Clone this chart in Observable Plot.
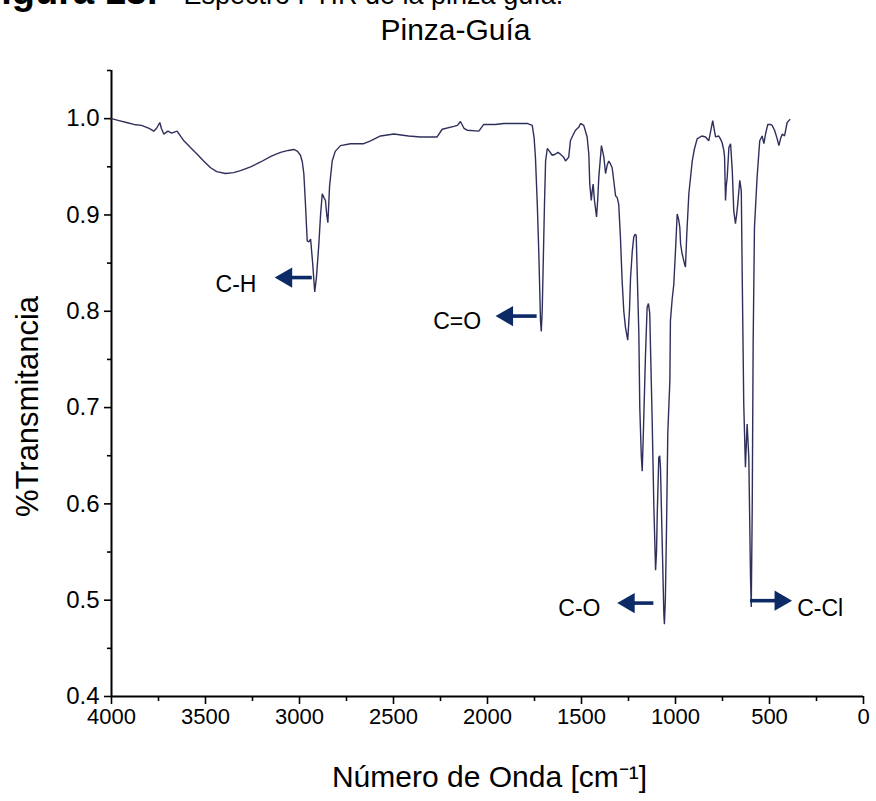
<!DOCTYPE html>
<html>
<head>
<meta charset="utf-8">
<script src="https://cdn.jsdelivr.net/npm/d3@7"></script>
<script src="https://cdn.jsdelivr.net/npm/@observablehq/plot@0.6"></script>
<style>
  html, body { margin: 0; padding: 0; background: #fff; }
  #page { position: relative; width: 876px; height: 801px; overflow: hidden; }
  #caption {
    position: absolute; left: -22px; top: -30px; white-space: nowrap;
    font-family: "Liberation Sans", Arial, sans-serif; font-size: 27px; color: #000;
  }
  #caption b { font-size: 38px; margin-right: 26px; }
  #chart { position: absolute; left: 0; top: 0; }
</style>
</head>
<body>
<div id="page">
  <div id="chart"></div>
  <div id="caption"><b>Figura 13.</b>Espectro FTIR de la pinza guía.</div>
</div>
<script>
// FTIR spectrum of the guide clamp (wavenumber in cm^-1, transmittance as a fraction)
const wavenumber = [
  4000, 3960, 3920, 3881, 3840, 3800, 3775, 3760, 3743, 3735, 3722, 3700, 3680, 3651, 3630, 3615,
  3580, 3544, 3510, 3473, 3440, 3394, 3350, 3314, 3260, 3207, 3150, 3101, 3060, 3030, 3010, 2995,
  2985, 2977, 2968, 2959, 2950, 2941, 2930, 2919, 2910, 2897, 2888, 2879, 2870, 2862, 2855, 2849,
  2840, 2826, 2810, 2782, 2729, 2658, 2622, 2569, 2498, 2420, 2356, 2268, 2241, 2179, 2160, 2144,
  2125, 2108, 2046, 2020, 1960, 1913, 1850, 1789, 1762, 1752, 1745, 1735, 1727, 1718, 1714, 1709,
  1704, 1697, 1691, 1682, 1670, 1656, 1640, 1625, 1612, 1595, 1585, 1568, 1559, 1545, 1532, 1515,
  1505, 1488, 1470, 1461, 1456, 1448, 1443, 1438, 1431, 1420, 1414, 1408, 1394, 1381, 1372, 1363,
  1355, 1346, 1337, 1328, 1319, 1310, 1302, 1293, 1284, 1275, 1266, 1254, 1245, 1239, 1230, 1222,
  1215, 1209, 1204, 1195, 1190, 1182, 1177, 1170, 1160, 1151, 1144, 1137, 1133, 1124, 1115, 1106,
  1101, 1097, 1089, 1084, 1080, 1071, 1062, 1059, 1054, 1048, 1041, 1030, 1027, 1018, 1009, 1000,
  991, 983, 977, 973, 965, 952, 947, 940, 929, 911, 900, 885, 860, 840, 823, 810,
  802, 795, 787, 770, 761, 752, 743, 739, 734, 730, 725, 716, 707, 698, 690, 681,
  675, 669, 658, 650, 645, 637, 628, 619, 610, 601, 597, 592, 587, 580, 566, 552,
  539, 530, 520, 509, 496, 486, 473, 459, 450, 440, 432, 420, 406, 392
];
const transmittance = [
  1.000, 0.998, 0.996, 0.994, 0.993, 0.990, 0.987, 0.990, 0.996, 0.990, 0.984, 0.987, 0.985, 0.987, 0.981, 0.977,
  0.970, 0.963, 0.956, 0.949, 0.945, 0.943, 0.944, 0.946, 0.950, 0.955, 0.961, 0.965, 0.967, 0.968, 0.966, 0.962,
  0.955, 0.943, 0.910, 0.873, 0.872, 0.875, 0.850, 0.820, 0.835, 0.870, 0.900, 0.922, 0.918, 0.915, 0.900, 0.892,
  0.930, 0.956, 0.966, 0.972, 0.974, 0.974, 0.977, 0.982, 0.984, 0.982, 0.981, 0.981, 0.989, 0.992, 0.993, 0.997,
  0.990, 0.988, 0.987, 0.994, 0.994, 0.995, 0.995, 0.995, 0.993, 0.980, 0.960, 0.910, 0.860, 0.790, 0.779, 0.800,
  0.846, 0.910, 0.956, 0.969, 0.966, 0.962, 0.963, 0.965, 0.963, 0.960, 0.956, 0.960, 0.977, 0.983, 0.988, 0.991,
  0.995, 0.993, 0.981, 0.963, 0.932, 0.915, 0.925, 0.932, 0.915, 0.898, 0.915, 0.939, 0.972, 0.960, 0.943, 0.952,
  0.956, 0.953, 0.949, 0.935, 0.920, 0.918, 0.911, 0.877, 0.832, 0.800, 0.783, 0.770, 0.800, 0.835, 0.862, 0.877,
  0.880, 0.879, 0.842, 0.777, 0.700, 0.650, 0.634, 0.680, 0.752, 0.804, 0.808, 0.798, 0.763, 0.686, 0.596, 0.531,
  0.550, 0.590, 0.648, 0.650, 0.638, 0.562, 0.486, 0.475, 0.500, 0.572, 0.673, 0.728, 0.790, 0.812, 0.828, 0.863,
  0.901, 0.895, 0.887, 0.870, 0.860, 0.849, 0.846, 0.880, 0.922, 0.956, 0.968, 0.979, 0.982, 0.981, 0.977, 0.990,
  0.998, 0.990, 0.981, 0.982, 0.979, 0.975, 0.967, 0.960, 0.915, 0.930, 0.939, 0.970, 0.974, 0.946, 0.904, 0.891,
  0.900, 0.911, 0.936, 0.925, 0.835, 0.704, 0.638, 0.683, 0.648, 0.524, 0.493, 0.593, 0.766, 0.887, 0.939, 0.977,
  0.982, 0.974, 0.985, 0.994, 0.994, 0.993, 0.988, 0.979, 0.972, 0.980, 0.984, 0.982, 0.996, 0.999
];

// Axis ticks
const xMajorTicks = [4000, 3500, 3000, 2500, 2000, 1500, 1000, 500, 0];
const xMinorTicks = [3750, 3250, 2750, 2250, 1750, 1250, 750, 250];
const yMajorTicks = [0.4, 0.5, 0.6, 0.7, 0.8, 0.9, 1.0];
const yMinorTicks = [0.45, 0.55, 0.65, 0.75, 0.85, 0.95, 1.05];

// Band assignments: arrow tail, arrow head, height, and label anchor point
const bandLabels = ["C-H", "C=O", "C-O", "C-Cl"];
const arrowTail = [2932, 1736, 1115, 601];
const arrowHead = [3070, 1895, 1248, 442];
const arrowLevel = [0.835, 0.795, 0.497, 0.4995];
const labelWavenumber = [3229, 2034, 1399, 353];
const labelLevel = [0.828, 0.789, 0.491, 0.491];

const spectrum = wavenumber.map((w, i) => ({w, t: transmittance[i]}));
const bands = bandLabels.map((label, i) => ({
  label,
  tail: arrowTail[i],
  head: arrowHead[i],
  level: arrowLevel[i],
  lx: labelWavenumber[i],
  ly: labelLevel[i],
  pointsRight: arrowHead[i] < arrowTail[i]
}));
const leftBands = bands.filter(d => !d.pointsRight);
const rightBands = bands.filter(d => d.pointsRight);

const font = "'Liberation Sans', Arial, sans-serif";
const lineColor = "#2f2f5c";
const arrowColor = "#0b2a66";

const chart = Plot.plot({
  width: 876,
  height: 801,
  marginLeft: 111,
  marginRight: 13,
  marginTop: 70,
  marginBottom: 105,
  style: {fontFamily: font, color: "#000", background: "#fff", overflow: "visible"},
  x: {domain: [4000, 0]},
  y: {domain: [0.4, 1.05]},
  marks: [
    // minor ticks
    Plot.axisX({ticks: xMinorTicks, tickSize: 5, strokeWidth: 1.6, tickFormat: () => "", label: null}),
    Plot.axisY({ticks: yMinorTicks, tickSize: 4, strokeWidth: 1.6, tickFormat: () => "", label: null}),
    // major ticks with labels
    Plot.axisX({ticks: xMajorTicks, tickSize: 8, tickPadding: 4, strokeWidth: 1.6, fontSize: 22,
      tickFormat: d => String(d), label: null}),
    Plot.axisY({ticks: yMajorTicks, tickSize: 7, tickPadding: 5, strokeWidth: 1.6, fontSize: 24,
      tickFormat: d3.format(".1f"), label: null}),
    // axis lines
    Plot.ruleY([0.4], {strokeWidth: 2}),
    Plot.ruleX([4000], {strokeWidth: 2}),
    // spectrum
    Plot.line(spectrum, {x: "w", y: "t", stroke: lineColor, strokeWidth: 1.4, strokeLinejoin: "miter"}),
    // band arrows
    Plot.ruleY(bands, {y: "level", x1: "tail", x2: "head", stroke: arrowColor, strokeWidth: 3.6}),
    Plot.dot(bands, {x: "head", y: "level", symbol: "triangle", r: 7.5, fill: arrowColor, stroke: "none",
      rotate: d => d.pointsRight ? 90 : -90}),
    Plot.text(leftBands, {x: "lx", y: "ly", text: "label", fontSize: 23, fill: "#000", textAnchor: "end"}),
    Plot.text(rightBands, {x: "lx", y: "ly", text: "label", fontSize: 23, fill: "#000", textAnchor: "start"}),
    // titles
    Plot.text(["Pinza-Guía"], {frameAnchor: "top", dx: -32, dy: -52, fontSize: 30, fill: "#000"}),
    Plot.text(["%Transmitancia"], {frameAnchor: "left", textAnchor: "middle", dx: -83, dy: 23, rotate: -90,
      fontSize: 31, fill: "#000"}),
    Plot.text(["Número de Onda [cm⁻¹]"], {frameAnchor: "bottom", dx: 2, dy: 90, fontSize: 30, fill: "#000"})
  ]
});

document.getElementById("chart").appendChild(chart);
</script>
</body>
</html>
